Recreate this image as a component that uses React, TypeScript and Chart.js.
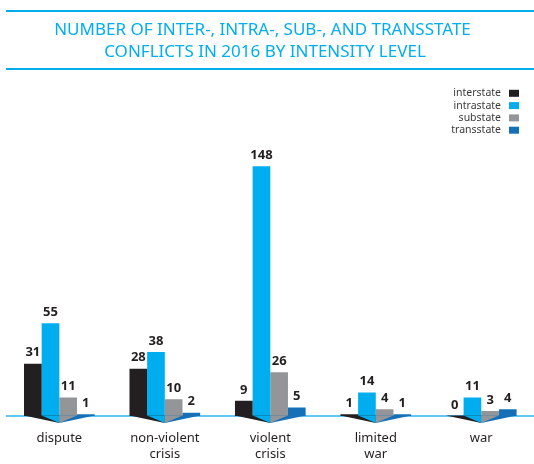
import React, { useEffect, useRef } from "react";
import { Chart, registerables } from "chart.js";

Chart.register(...registerables);

const categories = [["dispute"], ["non-violent", "crisis"], ["violent", "crisis"], ["limited", "war"], ["war"]];
const seriesNames = ["interstate", "intrastate", "substate", "transstate"];
const interstate = [31, 28, 9, 1, 0];
const intrastate = [55, 38, 148, 14, 11];
const substate = [11, 10, 26, 4, 3];
const transstate = [1, 2, 5, 1, 4];
const seriesValues = [interstate, intrastate, substate, transstate];
const colors = ["#231f20", "#00aeef", "#939598", "#1670b8"];
const titleLines = ["NUMBER OF INTER-, INTRA-, SUB-, AND TRANSSTATE", "CONFLICTS IN 2016 BY INTENSITY LEVEL"];

const FONT = '"Noto Sans", "Open Sans", sans-serif';

const decor = {
  id: "decor",
  beforeDraw(chart: any) {
    const ctx = chart.ctx;
    ctx.save();
    ctx.fillStyle = "#00aeef";
    ctx.fillRect(6, 10, 528, 2);
    ctx.fillRect(6, 68, 528, 2);
    ctx.font = `17px ${FONT}`;
    ctx.textAlign = "center";
    ctx.textBaseline = "middle";
    const targets = [419, 326];
    const centers = [262.5, 265];
    titleLines.forEach((t, i) => {
      const w = ctx.measureText(t).width;
      const s = Math.min(1, targets[i] / w);
      ctx.save();
      ctx.translate(centers[i], 30 + i * 22);
      ctx.scale(s, 1);
      ctx.fillText(t, 0, 0);
      ctx.restore();
    });
    // legend
    ctx.font = `10.5px ${FONT}`;
    ctx.textAlign = "right";
    seriesNames.forEach((name, i) => {
      const y = 93.3 + i * 12.3;
      ctx.fillStyle = "#3a3a3a";
      ctx.fillText(name, 501, y);
      ctx.fillStyle = colors[i];
      ctx.fillRect(509, y - 3.5, 10, 7);
    });
    ctx.restore();
  },
  beforeDatasetsDraw(chart: any) {
    const ctx = chart.ctx;
    const base = chart.chartArea.bottom;
    ctx.save();
    ctx.strokeStyle = "#62c8f2";
    ctx.lineWidth = 2;
    ctx.beginPath();
    ctx.moveTo(6, base);
    ctx.lineTo(534, base);
    ctx.stroke();
    ctx.restore();
  },
  afterDatasetsDraw(chart: any) {
    const ctx = chart.ctx;
    const base = chart.chartArea.bottom;
    const depth = 7;
    const metas = seriesNames.map((_, i) => chart.getDatasetMeta(i));
    ctx.save();
    for (let j = 0; j < categories.length; j++) {
      const bars = metas.map((m: any) => m.data[j]);
      const w = bars[0].width;
      const gl = bars[0].x - w / 2;
      const gr = bars[3].x + w / 2;
      const c = (gl + gr) / 2;
      const b1l = bars[1].x - w / 2;
      const b2r = bars[2].x + w / 2;
      const tri = (pts: number[][], col: string) => {
        ctx.fillStyle = col;
        ctx.beginPath();
        ctx.moveTo(pts[0][0], pts[0][1]);
        for (let k = 1; k < pts.length; k++) ctx.lineTo(pts[k][0], pts[k][1]);
        ctx.closePath();
        ctx.fill();
      };
      tri([[gl, base - 0.5], [c, base - 0.5], [c, base + depth]], colors[0]);
      tri([[gr, base - 0.5], [c, base - 0.5], [c, base + depth]], colors[3]);
      tri([[b1l, base - 0.5], [c, base - 0.5], [c, base + depth]], colors[1]);
      tri([[b2r, base - 0.5], [c, base - 0.5], [c, base + depth]], colors[2]);
    }
    ctx.font = `bold 13px ${FONT}`;
    ctx.fillStyle = "#231f20";
    ctx.textAlign = "center";
    ctx.textBaseline = "middle";
    metas.forEach((m: any, i: number) => {
      m.data.forEach((bar: any, j: number) => {
        ctx.fillText(String(seriesValues[i][j]), bar.x, bar.y - 11);
      });
    });
    ctx.restore();
  },
};

export default function App() {
  const ref = useRef<HTMLCanvasElement>(null);
  useEffect(() => {
    document.body.style.margin = "0";
    const chart = new Chart(ref.current!, {
      type: "bar",
      data: {
        labels: categories,
        datasets: seriesNames.map((name, i) => ({
          label: name,
          data: seriesValues[i],
          backgroundColor: colors[i],
          borderWidth: 0,
          categoryPercentage: 0.67,
          barPercentage: 1.0,
        })),
      },
      options: {
        responsive: false,
        animation: false,
        devicePixelRatio: 1,
        layout: { padding: { top: 146, left: 6.6, right: -2, bottom: 0 } },
        plugins: {
          legend: { display: false },
          title: { display: false },
          tooltip: { enabled: false },
        },
        scales: {
          x: {
            grid: { display: false },
            border: { display: false },
            ticks: {
              color: "#231f20",
              font: { family: FONT, size: 13, lineHeight: 16 / 13 },
              padding: 6.2,
              maxRotation: 0,
              autoSkip: false,
            },
            afterFit: (scale: any) => {
              scale.height = 48;
            },
          },
          y: { display: false, min: 0, max: 160 },
        },
      },
      plugins: [decor],
    });
    return () => chart.destroy();
  }, []);
  return (
    <div style={{ width: 534, height: 464 }}>
      <canvas ref={ref} width={534} height={464} />
    </div>
  );
}
